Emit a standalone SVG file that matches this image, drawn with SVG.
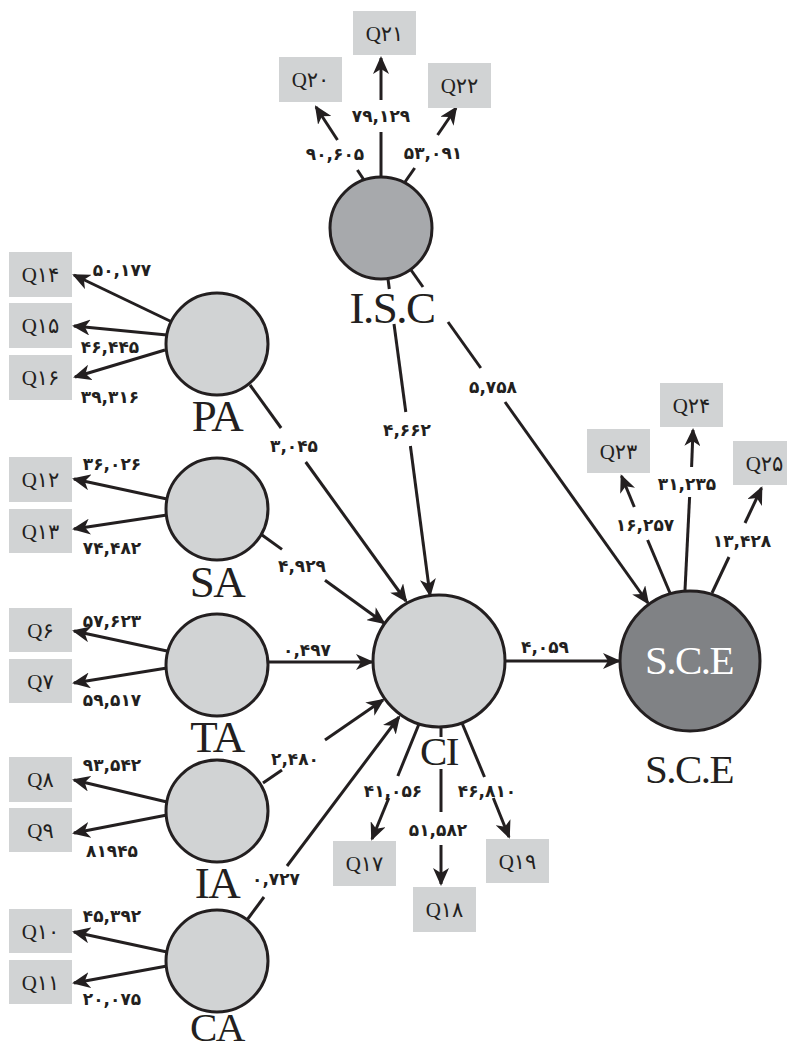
<svg xmlns="http://www.w3.org/2000/svg" width="787" height="1049" viewBox="0 0 787 1049">
<style>
.bg{fill:#ffffff}
.lat{fill:#d1d3d4;stroke:#231f20;stroke-width:3}
.isc{fill:#a7a9ac;stroke:#231f20;stroke-width:3}
.sce{fill:#808285;stroke:#231f20;stroke-width:3}
.box{fill:#d1d3d4}
.qt{font-family:"Liberation Serif","DejaVu Sans",serif;font-size:21px;fill:#231f20;text-anchor:middle}
.big{font-family:"Liberation Serif",serif;font-size:45px;fill:#231f20;text-anchor:middle;letter-spacing:-1.5px}
.num{font-family:"DejaVu Sans",sans-serif;font-weight:bold;font-size:17px;fill:#231f20;text-anchor:middle}
.ln{stroke:#231f20;stroke-width:3;fill:none}
.ar{stroke:#231f20;stroke-width:3;fill:none;marker-end:url(#ah)}
</style>
<defs>
<marker id="ah" markerUnits="userSpaceOnUse" markerWidth="18" markerHeight="16" viewBox="0 0 18 16" refX="16" refY="8" orient="auto"><path d="M0,0 L18,8 L0,16 L5,8 Z" fill="#231f20"/></marker>
</defs>
<rect class="bg" x="0" y="0" width="787" height="1049"/>

<g id="connectors">
<line class="ln" x1="364" y1="180" x2="357.4" y2="170"/>
<line class="ar" x1="337.5" y1="140" x2="316" y2="107"/>
<line class="ln" x1="381" y1="177" x2="381" y2="132"/>
<line class="ar" x1="381" y1="100" x2="381" y2="58"/>
<line class="ln" x1="405" y1="182" x2="414.7" y2="168"/>
<line class="ar" x1="437.6" y1="135" x2="456" y2="108"/>
<line class="ar" x1="172" y1="322" x2="74" y2="275"/>
<line class="ar" x1="167" y1="335" x2="74" y2="326"/>
<line class="ar" x1="165" y1="350" x2="75" y2="377"/>
<line class="ar" x1="167" y1="499" x2="74" y2="479"/>
<line class="ar" x1="167" y1="515" x2="74" y2="529"/>
<line class="ar" x1="167" y1="651" x2="74" y2="631"/>
<line class="ar" x1="167" y1="668" x2="74" y2="683"/>
<line class="ar" x1="167" y1="802" x2="74" y2="780"/>
<line class="ar" x1="167" y1="815" x2="74" y2="833"/>
<line class="ar" x1="167" y1="952" x2="74" y2="932"/>
<line class="ar" x1="167" y1="966" x2="74" y2="983"/>
<line class="ln" x1="419" y1="724" x2="397.8" y2="776"/>
<line class="ar" x1="388.8" y1="798" x2="372" y2="839"/>
<line class="ln" x1="441" y1="727" x2="441" y2="737"/>
<line class="ln" x1="441" y1="769" x2="441" y2="812"/>
<line class="ar" x1="441" y1="845" x2="441" y2="884"/>
<line class="ln" x1="462" y1="723" x2="484.5" y2="777"/>
<line class="ar" x1="493.3" y1="798" x2="509" y2="837"/>
<line class="ln" x1="670" y1="593" x2="647.6" y2="540"/>
<line class="ar" x1="634.3" y1="507" x2="621.5" y2="476"/>
<line class="ln" x1="685" y1="590" x2="689.6" y2="497"/>
<line class="ar" x1="691.6" y1="467" x2="693" y2="430"/>
<line class="ln" x1="712" y1="593" x2="729" y2="557"/>
<line class="ar" x1="745" y1="523" x2="761.5" y2="488"/>
<line class="ln" x1="388" y1="279" x2="389.3" y2="289"/>
<line class="ln" x1="394" y1="324" x2="405.8" y2="412"/>
<line class="ar" x1="410.4" y1="446" x2="430" y2="595"/>
<line class="ln" x1="411" y1="270" x2="423" y2="287"/>
<line class="ln" x1="448" y1="322" x2="480.8" y2="368"/>
<line class="ar" x1="505" y1="402" x2="648" y2="603"/>
<line class="ln" x1="250" y1="385" x2="281.1" y2="428"/>
<line class="ar" x1="305.7" y1="462" x2="406" y2="601"/>
<line class="ln" x1="262" y1="535" x2="282" y2="549.4"/>
<line class="ar" x1="325" y1="580.3" x2="384" y2="623"/>
<line class="ar" x1="268" y1="662" x2="372" y2="662"/>
<line class="ln" x1="263" y1="783" x2="282" y2="770"/>
<line class="ar" x1="325" y1="740" x2="383" y2="700"/>
<line class="ln" x1="247" y1="920" x2="264" y2="897"/>
<line class="ar" x1="287" y1="866" x2="399" y2="717"/>
<line class="ar" x1="505" y1="661" x2="619" y2="661"/>
</g>

<g id="edge-labels">
<text class="num" x="335" y="160">۹۰,۶۰۵</text>
<text class="num" x="381" y="122">۷۹,۱۲۹</text>
<text class="num" x="433" y="159">۵۳,۰۹۱</text>
<text class="num" x="122" y="276">۵۰,۱۷۷</text>
<text class="num" x="110" y="353">۴۶,۴۴۵</text>
<text class="num" x="110" y="403">۳۹,۳۱۶</text>
<text class="num" x="112" y="470">۳۶,۰۲۶</text>
<text class="num" x="112" y="554">۷۴,۴۸۲</text>
<text class="num" x="112" y="627">۵۷,۶۲۳</text>
<text class="num" x="112" y="706">۵۹,۵۱۷</text>
<text class="num" x="112" y="771">۹۳,۵۴۲</text>
<text class="num" x="112" y="857">۸۱۹۴۵</text>
<text class="num" x="112" y="922">۴۵,۳۹۲</text>
<text class="num" x="112" y="1005">۲۰,۰۷۵</text>
<text class="num" x="294" y="452">۳,۰۴۵</text>
<text class="num" x="407" y="436">۴,۶۶۲</text>
<text class="num" x="493" y="393">۵,۷۵۸</text>
<text class="num" x="302" y="572">۴,۹۲۹</text>
<text class="num" x="307" y="656">۰,۴۹۷</text>
<text class="num" x="295" y="765">۲,۴۸۰</text>
<text class="num" x="276" y="885">۰,۷۲۷</text>
<text class="num" x="545" y="653">۴,۰۵۹</text>
<text class="num" x="393" y="797">۴۱,۰۵۶</text>
<text class="num" x="438" y="836">۵۱,۵۸۲</text>
<text class="num" x="487" y="797">۴۶,۸۱۰</text>
<text class="num" x="645" y="531">۱۶,۲۵۷</text>
<text class="num" x="687" y="490">۳۱,۲۳۵</text>
<text class="num" x="742" y="547">۱۳,۴۲۸</text>
</g>

<g id="node-ISC"><circle class="isc" cx="381" cy="228" r="51"/><text class="big" x="392" y="323">I.S.C</text></g>
<g id="node-PA"><circle class="lat" cx="217" cy="344" r="51"/><text class="big" x="217" y="431">PA</text></g>
<g id="node-SA"><circle class="lat" cx="217" cy="509" r="51"/><text class="big" x="217" y="597">SA</text></g>
<g id="node-TA"><circle class="lat" cx="217" cy="665" r="51"/><text class="big" x="217" y="752">TA</text></g>
<g id="node-IA"><circle class="lat" cx="217" cy="811" r="51"/><text class="big" x="217" y="898">IA</text></g>
<g id="node-CA"><circle class="lat" cx="217" cy="961" r="51"/><text class="big" x="217" y="1041" style="font-size:41px">CA</text></g>
<g id="node-CI"><circle class="lat" cx="439" cy="661" r="66"/><text class="big" x="439" y="765" style="font-size:41px">CI</text></g>
<g id="node-SCE"><circle class="sce" cx="690" cy="661" r="70"/><text class="big" x="689" y="674" style="font-size:41px;fill:#ffffff">S.C.E</text><text class="big" x="689" y="783" style="font-size:41px">S.C.E</text></g>

<g id="Q20"><rect class="box" x="279" y="57" width="63" height="45"/><text class="qt" x="310.5" y="87">Q۲۰</text></g>
<g id="Q21"><rect class="box" x="353" y="11" width="63" height="44"/><text class="qt" x="384.5" y="41">Q۲۱</text></g>
<g id="Q22"><rect class="box" x="428" y="63" width="63" height="45"/><text class="qt" x="459.5" y="93">Q۲۲</text></g>
<g id="Q14"><rect class="box" x="9" y="252" width="63" height="45"/><text class="qt" x="40.5" y="282">Q۱۴</text></g>
<g id="Q15"><rect class="box" x="9" y="303" width="63" height="45"/><text class="qt" x="40.5" y="333">Q۱۵</text></g>
<g id="Q16"><rect class="box" x="9" y="355" width="63" height="45"/><text class="qt" x="40.5" y="385">Q۱۶</text></g>
<g id="Q12"><rect class="box" x="9" y="457" width="63" height="45"/><text class="qt" x="40.5" y="487">Q۱۲</text></g>
<g id="Q13"><rect class="box" x="9" y="509" width="63" height="44"/><text class="qt" x="40.5" y="539">Q۱۳</text></g>
<g id="Q6"><rect class="box" x="9" y="608" width="63" height="44"/><text class="qt" x="40.5" y="638">Q۶</text></g>
<g id="Q7"><rect class="box" x="9" y="659" width="63" height="44"/><text class="qt" x="40.5" y="689">Q۷</text></g>
<g id="Q8"><rect class="box" x="9" y="757" width="63" height="45"/><text class="qt" x="40.5" y="787">Q۸</text></g>
<g id="Q9"><rect class="box" x="9" y="808" width="63" height="44"/><text class="qt" x="40.5" y="838">Q۹</text></g>
<g id="Q10"><rect class="box" x="9" y="909" width="63" height="44"/><text class="qt" x="40.5" y="939">Q۱۰</text></g>
<g id="Q11"><rect class="box" x="9" y="960" width="63" height="44"/><text class="qt" x="40.5" y="990">Q۱۱</text></g>
<g id="Q17"><rect class="box" x="333" y="841" width="63" height="45"/><text class="qt" x="364.5" y="871">Q۱۷</text></g>
<g id="Q18"><rect class="box" x="413" y="887" width="63" height="45"/><text class="qt" x="444.5" y="917">Q۱۸</text></g>
<g id="Q19"><rect class="box" x="486" y="839" width="63" height="44"/><text class="qt" x="517.5" y="869">Q۱۹</text></g>
<g id="Q23"><rect class="box" x="587" y="429" width="63" height="44"/><text class="qt" x="618.5" y="459">Q۲۳</text></g>
<g id="Q24"><rect class="box" x="660" y="383" width="63" height="44"/><text class="qt" x="691.5" y="413">Q۲۴</text></g>
<g id="Q25"><rect class="box" x="733" y="441" width="63" height="44"/><text class="qt" x="764.5" y="471">Q۲۵</text></g>
</svg>
